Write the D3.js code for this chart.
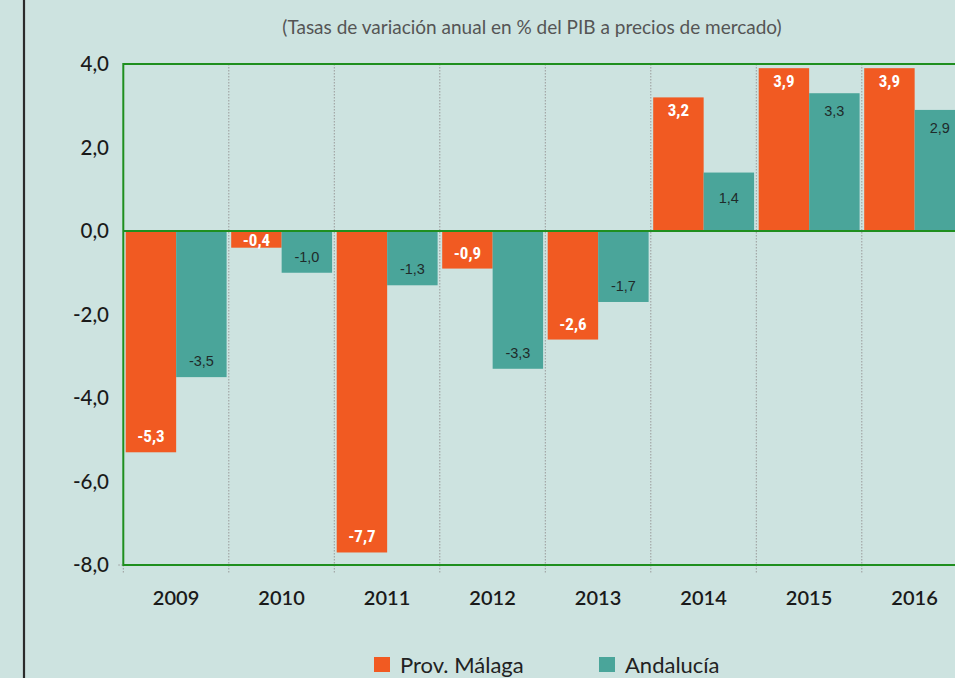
<!DOCTYPE html>
<html><head><meta charset="utf-8">
<script src="https://cdn.jsdelivr.net/npm/d3@7"></script>
<style>
html,body{margin:0;padding:0;background:#cde3e0;}
svg{display:block;}
</style></head>
<body>
<svg id="chart" width="955" height="678"></svg>
<script>
const years = ["2009","2010","2011","2012","2013","2014","2015","2016"];
const malaga = [-5.3,-0.4,-7.7,-0.9,-2.6,3.2,3.9,3.9];
const andalucia = [-3.5,-1.0,-1.3,-3.3,-1.7,1.4,3.3,2.9];
const yTicks = [4,2,0,-2,-4,-6,-8];
const seriesNames = ["Prov. Málaga","Andalucía"];
const colors = ["#f15a22","#4aa59a"];
const subtitle = "(Tasas de variación anual en % del PIB a precios de mercado)";

const svg = d3.select("#chart");
const fmt = v => d3.format(".1f")(v).replace(".", ",").replace("\u2212","-");
const font = "Lato, 'Open Sans', sans-serif";
const narrow = "'Liberation Sans Narrow', 'Arial Narrow', 'Roboto Condensed', sans-serif";
const arial = "'Liberation Sans', Arial, sans-serif";

svg.append("rect").attr("width",955).attr("height",678).attr("fill","#cde3e0");
// left frame line
svg.append("line").attr("x1",24).attr("x2",24).attr("y1",0).attr("y2",678)
  .attr("stroke","#2b2b2b").attr("stroke-width",2.2);

svg.append("text").attr("x",532).attr("y",34).attr("text-anchor","middle")
  .attr("font-family",font).attr("font-size",19).attr("fill","#555").text(subtitle);

const x = d3.scaleBand().domain(years).range([123.3, 123.3 + 105.5*years.length]);
const y = d3.scaleLinear().domain([-8,4]).range([565,64]);
const inner = d3.scaleBand().domain([0,1]).range([2.4, x.bandwidth()-2.2]);

// vertical dotted gridlines
const bounds = years.slice(1).map(d => x(d));
svg.selectAll(".grid").data(bounds).join("line")
  .attr("x1",d=>d).attr("x2",d=>d).attr("y1",y(4)).attr("y2",y(-8)+9)
  .attr("stroke","#9a9a9a").attr("stroke-width",1).attr("stroke-dasharray","1.5,1.5");
svg.append("line").attr("x1",x.range()[0]).attr("x2",x.range()[0]).attr("y1",y(-8)).attr("y2",y(-8)+9)
  .attr("stroke","#9a9a9a").attr("stroke-dasharray","1.5,1.5");
svg.append("line").attr("x1",x.range()[0]-5).attr("x2",x.range()[0]).attr("y1",y(-8)).attr("y2",y(-8))
  .attr("stroke","#9a9a9a").attr("stroke-dasharray","1.5,1.5");

// bars
const data = years.map((yr,i)=>({yr, vals:[malaga[i], andalucia[i]]}));
const g = svg.append("g");
data.forEach(d=>{
  d.vals.forEach((v,s)=>{
    const bx = x(d.yr)+inner(s);
    g.append("rect").attr("x",bx).attr("width",inner.bandwidth())
      .attr("y",y(Math.max(0,v))).attr("height",Math.abs(y(v)-y(0)))
      .attr("fill",colors[s]);
    let ly;
    if (v<0) { ly = Math.max(y(v)-16, y(0)+9); }
    else { ly = y(v) + (s===0?13:(v<2?25:18)); }
    g.append("text").attr("x",bx+inner.bandwidth()/2).attr("y",ly).attr("dy","0.35em")
      .attr("text-anchor","middle").attr("font-family",s===0?narrow:arial)
      .attr("font-size",s===0?17:14.5).attr("font-weight",s===0?"bold":"normal")
      .attr("fill",s===0?"#ffffff":"#1f2b2a").text(fmt(v));
  });
});

// plot border lines (green)
const green = "#1f8f1f";
[4,0,-8].forEach(v=>{
  svg.append("line").attr("x1",x.range()[0]).attr("x2",960).attr("y1",y(v)).attr("y2",y(v))
    .attr("stroke",green).attr("stroke-width",2);
});
svg.append("line").attr("x1",x.range()[0]).attr("x2",x.range()[0]).attr("y1",y(4)-1).attr("y2",y(-8)+1)
  .attr("stroke",green).attr("stroke-width",2);

// y axis labels
const yAxis = d3.axisLeft(y).tickValues(yTicks).tickFormat(fmt).tickSize(0).tickPadding(0);
const ya = svg.append("g").attr("transform","translate(109,0)").call(yAxis);
ya.select(".domain").remove();
ya.selectAll("text").attr("font-family",font).attr("font-size",20.5).attr("font-weight","500").attr("fill","#1a1a1a");

// x axis labels
const xAxis = d3.axisBottom(x).tickSize(0).tickPadding(0);
const xa = svg.append("g").attr("transform","translate(0,591)").call(xAxis);
xa.select(".domain").remove();
xa.selectAll("text").attr("font-family",font).attr("font-size",20).attr("font-weight","600").attr("fill","#1a1a1a");

// legend
const legX = [374, 599];
seriesNames.forEach((n,i)=>{
  svg.append("rect").attr("x",legX[i]).attr("y",657).attr("width",16).attr("height",15).attr("fill",colors[i]);
  svg.append("text").attr("x",legX[i]+26).attr("y",665).attr("dy","0.35em")
    .attr("font-family",font).attr("font-size",22).attr("fill","#222").text(n);
});
</script>
</body></html>
